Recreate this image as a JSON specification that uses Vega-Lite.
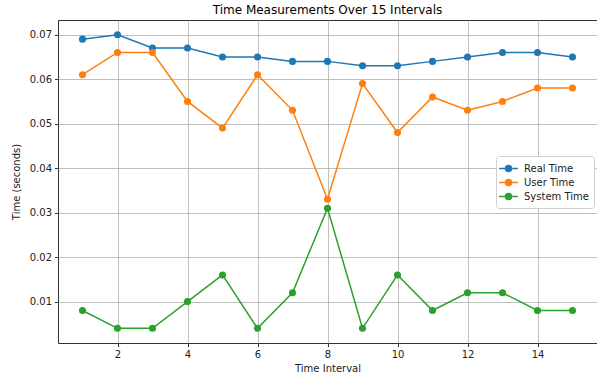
{
  "$schema": "https://vega.github.io/schema/vega-lite/v6.json",
  "width": 539,
  "height": 323,
  "autosize": "none",
  "padding": {"left": 58, "top": 20, "right": 0, "bottom": 33},
  "background": "white",
  "title": {"text": "Time Measurements Over 15 Intervals", "fontSize": 12, "font": "DejaVu Sans", "fontWeight": "normal", "color": "#000", "offset": 3, "anchor": "middle"},
  "config": {
    "font": "DejaVu Sans",
    "view": {"stroke": "#333", "strokeWidth": 1},
    "axis": {"labelFont": "DejaVu Sans", "titleFont": "DejaVu Sans", "labelFontSize": 10, "titleFontSize": 10, "titleFontWeight": "normal", "labelColor": "#222", "titleColor": "#222", "gridColor": "#b0b0b0", "gridWidth": 0.8, "gridOpacity": 1, "tickColor": "#333", "tickSize": 3.5, "domain": false, "labelPadding": 3}
  },
  "data": {"values": [
    {"interval": 1, "series": "Real Time", "time": 0.069},
    {"interval": 2, "series": "Real Time", "time": 0.070},
    {"interval": 3, "series": "Real Time", "time": 0.067},
    {"interval": 4, "series": "Real Time", "time": 0.067},
    {"interval": 5, "series": "Real Time", "time": 0.065},
    {"interval": 6, "series": "Real Time", "time": 0.065},
    {"interval": 7, "series": "Real Time", "time": 0.064},
    {"interval": 8, "series": "Real Time", "time": 0.064},
    {"interval": 9, "series": "Real Time", "time": 0.063},
    {"interval": 10, "series": "Real Time", "time": 0.063},
    {"interval": 11, "series": "Real Time", "time": 0.064},
    {"interval": 12, "series": "Real Time", "time": 0.065},
    {"interval": 13, "series": "Real Time", "time": 0.066},
    {"interval": 14, "series": "Real Time", "time": 0.066},
    {"interval": 15, "series": "Real Time", "time": 0.065},
    {"interval": 1, "series": "User Time", "time": 0.061},
    {"interval": 2, "series": "User Time", "time": 0.066},
    {"interval": 3, "series": "User Time", "time": 0.066},
    {"interval": 4, "series": "User Time", "time": 0.055},
    {"interval": 5, "series": "User Time", "time": 0.049},
    {"interval": 6, "series": "User Time", "time": 0.061},
    {"interval": 7, "series": "User Time", "time": 0.053},
    {"interval": 8, "series": "User Time", "time": 0.033},
    {"interval": 9, "series": "User Time", "time": 0.059},
    {"interval": 10, "series": "User Time", "time": 0.048},
    {"interval": 11, "series": "User Time", "time": 0.056},
    {"interval": 12, "series": "User Time", "time": 0.053},
    {"interval": 13, "series": "User Time", "time": 0.055},
    {"interval": 14, "series": "User Time", "time": 0.058},
    {"interval": 15, "series": "User Time", "time": 0.058},
    {"interval": 1, "series": "System Time", "time": 0.008},
    {"interval": 2, "series": "System Time", "time": 0.004},
    {"interval": 3, "series": "System Time", "time": 0.004},
    {"interval": 4, "series": "System Time", "time": 0.010},
    {"interval": 5, "series": "System Time", "time": 0.016},
    {"interval": 6, "series": "System Time", "time": 0.004},
    {"interval": 7, "series": "System Time", "time": 0.012},
    {"interval": 8, "series": "System Time", "time": 0.031},
    {"interval": 9, "series": "System Time", "time": 0.004},
    {"interval": 10, "series": "System Time", "time": 0.016},
    {"interval": 11, "series": "System Time", "time": 0.008},
    {"interval": 12, "series": "System Time", "time": 0.012},
    {"interval": 13, "series": "System Time", "time": 0.012},
    {"interval": 14, "series": "System Time", "time": 0.008},
    {"interval": 15, "series": "System Time", "time": 0.008}
  ]},
  "encoding": {
    "x": {"field": "interval", "type": "quantitative", "scale": {"domain": [0.3, 15.7], "nice": false, "zero": false}, "axis": {"values": [2, 4, 6, 8, 10, 12, 14], "title": "Time Interval", "titlePadding": 4}},
    "y": {"field": "time", "type": "quantitative", "scale": {"domain": [0.0007, 0.0733], "nice": false, "zero": false}, "axis": {"values": [0.01, 0.02, 0.03, 0.04, 0.05, 0.06, 0.07], "format": ".2f", "title": "Time (seconds)", "titlePadding": 8}},
    "color": {"field": "series", "type": "nominal", "scale": {"domain": ["Real Time", "User Time", "System Time"], "range": ["#1f77b4", "#ff7f0e", "#2ca02c"]},
      "legend": {"title": null, "orient": "none", "legendX": 438, "legendY": 136, "labelFontSize": 10, "labelColor": "#222", "symbolType": "M-1.4,0L1.4,0M-0.45,0A0.45,0.45 0 1,1 0.45,0A0.45,0.45 0 1,1 -0.45,0Z", "symbolSize": 180, "symbolStrokeWidth": 1.5, "rowPadding": 0, "padding": 5, "strokeColor": "#d0d0d0", "cornerRadius": 3, "fillColor": "white", "labelOffset": 8}}
  },
  "layer": [
    {"mark": {"type": "line", "strokeWidth": 1.5}},
    {"mark": {"type": "point", "filled": true, "size": 50, "opacity": 1}}
  ]
}
